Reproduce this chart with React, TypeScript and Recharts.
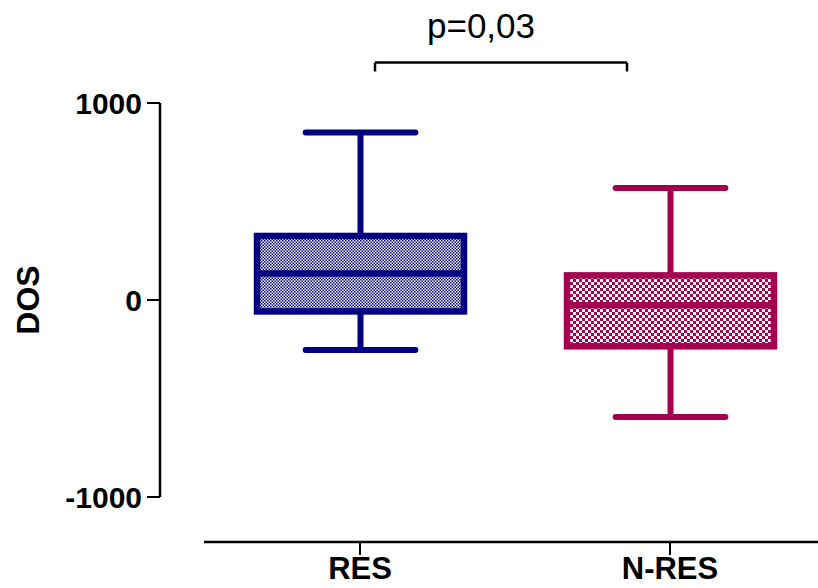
import React from 'react';
import { ComposedChart, Bar, XAxis, YAxis, ReferenceLine } from 'recharts';

// groups and their five-number summaries
const groups = ['RES', 'N-RES'];
const mins = [-254, -594];
const q1s = [-58, -235];
const medians = [134, -27];
const q3s = [325, 125];
const maxs = [850, 569];

const yTicks = [-1000, 0, 1000];
const pText = 'p=0,03';
const bracketTop = 1205;
const bracketFoot = 1160;

const COLORS = ['#000080', '#A3004F'];
const PATTERNS = ['pRes', 'pNres'];
const FONT = 'Arial, "Liberation Sans", sans-serif';

const data = groups.map((name, i) => ({
  name,
  min: mins[i],
  q1: q1s[i],
  median: medians[i],
  q3: q3s[i],
  max: maxs[i],
}));

const BoxShape = (props: any) => {
  const { x, y, width, height, payload, index } = props;
  const top = Math.min(y, y + height);
  const h = Math.abs(height);
  const py = (v: number) => top + ((payload.max - v) / (payload.max - payload.min)) * h;
  const cx = x + width / 2;
  const capW = width * 0.53;
  const c = COLORS[index];
  return (
    <g>
      <line x1={cx} x2={cx} y1={py(payload.max)} y2={py(payload.q3)} stroke={c} strokeWidth={6} />
      <line x1={cx} x2={cx} y1={py(payload.q1)} y2={py(payload.min)} stroke={c} strokeWidth={6} />
      <line x1={cx - capW / 2} x2={cx + capW / 2} y1={py(payload.max)} y2={py(payload.max)} stroke={c} strokeWidth={6} strokeLinecap="round" />
      <line x1={cx - capW / 2} x2={cx + capW / 2} y1={py(payload.min)} y2={py(payload.min)} stroke={c} strokeWidth={6} strokeLinecap="round" />
      <rect x={x} y={py(payload.q3)} width={width} height={py(payload.q1) - py(payload.q3)} fill={`url(#${PATTERNS[index]})`} stroke={c} strokeWidth={6.5} />
      <line x1={x} x2={x + width} y1={py(payload.median)} y2={py(payload.median)} stroke={c} strokeWidth={6.5} />
    </g>
  );
};

const App = () => {
  return (
    <div style={{ position: 'absolute', left: 0, top: 0, width: 818, height: 588, overflow: 'hidden', background: '#fff' }}>
      <ComposedChart width={825} height={588} data={data} margin={{ top: 103, right: 0, bottom: 0, left: 20 }}>
        <defs>
          <pattern id="pRes" width={3} height={3} patternUnits="userSpaceOnUse">
            <rect width={3} height={3} fill="#fff" />
            <rect width={1.5} height={1.5} fill="#000080" />
            <rect x={1.5} y={1.5} width={1.5} height={1.5} fill="#000080" />
          </pattern>
          <pattern id="pNres" width={6} height={6} patternUnits="userSpaceOnUse">
            <rect width={6} height={6} fill="#fff" />
            <rect width={3} height={3} fill="#A3004F" />
            <rect x={3} y={3} width={3} height={3} fill="#A3004F" />
          </pattern>
        </defs>
        {/* x1: spacer that pushes the visible axis below the plot; x2: visible axis; x3: bracket positions */}
        <XAxis xAxisId="x1" dataKey="name" height={45} tick={false} axisLine={false} tickLine={false} padding={{ left: 1, right: 0 }} />
        <XAxis
          xAxisId="x2"
          dataKey="name"
          height={46}
          interval={0}
          padding={{ left: 1, right: 0 }}
          tickSize={13}
          tickMargin={2}
          axisLine={{ stroke: '#000', strokeWidth: 2.5 }}
          tickLine={{ stroke: '#000', strokeWidth: 2 }}
          tick={{ fill: '#000', fontSize: 31, fontWeight: 'bold', fontFamily: FONT }}
        />
        <XAxis xAxisId="x3" dataKey="name" hide padding={{ left: 45, right: 72 }} />
        <YAxis yAxisId="y1" width={44} tick={false} axisLine={false} tickLine={false} />
        <YAxis
          yAxisId="y2"
          width={140}
          domain={[-1000, 1000]}
          ticks={yTicks}
          interval={0}
          tickSize={13}
          tickMargin={5}
          axisLine={{ stroke: '#000', strokeWidth: 2.5 }}
          tickLine={{ stroke: '#000', strokeWidth: 2 }}
          tick={{ fill: '#000', fontSize: 30, fontWeight: 'bold', fontFamily: FONT }}
          label={{ value: 'DOS', angle: -90, position: 'insideLeft', offset: 8, style: { textAnchor: 'middle' }, fontSize: 32, fontWeight: 'bold', fill: '#000', fontFamily: FONT }}
        />
        <Bar
          xAxisId="x1"
          yAxisId="y2"
          dataKey={(d: any) => [d.min, d.max]}
          barSize={207}
          shape={BoxShape}
          isAnimationActive={false}
        />
        <ReferenceLine
          xAxisId="x3"
          yAxisId="y2"
          ifOverflow="visible"
          segment={[{ x: groups[0], y: bracketTop }, { x: groups[1], y: bracketTop }]}
          stroke="#000"
          strokeWidth={2.5}
          label={{ value: pText, position: 'top', offset: 25, dx: -20, fontSize: 35, fill: '#000', fontFamily: FONT }}
        />
        <ReferenceLine xAxisId="x3" yAxisId="y2" ifOverflow="visible" segment={[{ x: groups[0], y: bracketTop }, { x: groups[0], y: bracketFoot }]} stroke="#000" strokeWidth={2.5} />
        <ReferenceLine xAxisId="x3" yAxisId="y2" ifOverflow="visible" segment={[{ x: groups[1], y: bracketTop }, { x: groups[1], y: bracketFoot }]} stroke="#000" strokeWidth={2.5} />
      </ComposedChart>
    </div>
  );
};

export default App;
